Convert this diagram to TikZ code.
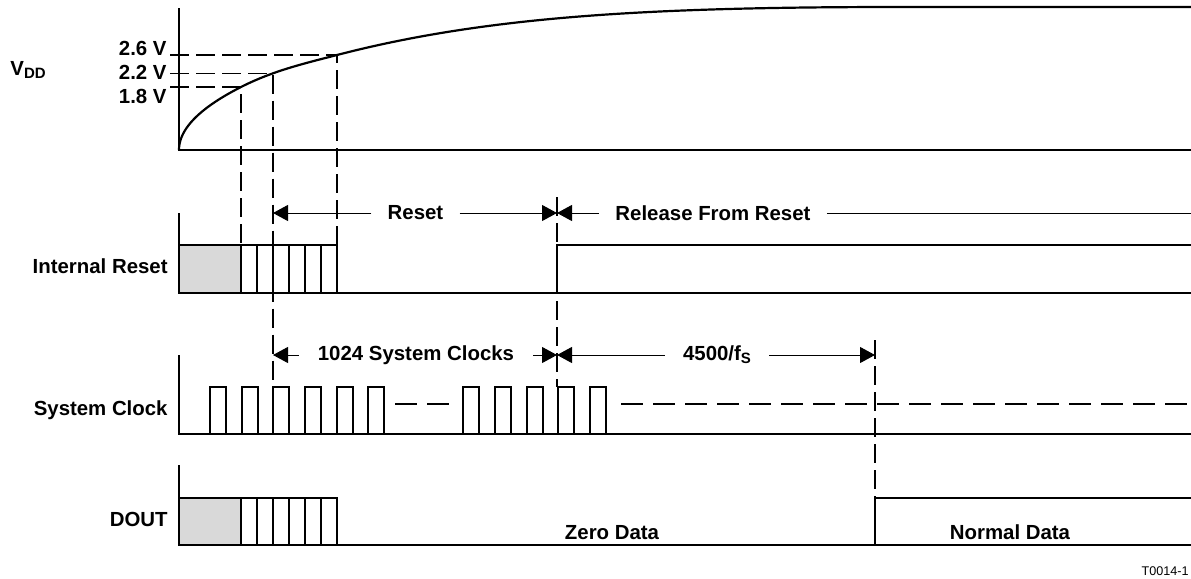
\documentclass[tikz,border=0pt]{standalone}
\usepackage{fontspec}
\setmainfont{Liberation Sans}
\usetikzlibrary{arrows.meta}
\begin{document}
\begin{tikzpicture}[x=0.5pt, y=-0.5pt,
    font=\fontsize{10.2}{12}\selectfont\bfseries,
    wave/.style={line width=1.1pt},
    guide/.style={line width=0.6pt, dash pattern=on 9.5pt off 3.5pt},
    dots/.style={line width=0.6pt, dash pattern=on 11pt off 5pt},
    dim/.style={line width=0.5pt, -{Triangle[length=7.5pt, width=8pt]}},
    gap/.style={inner sep=0pt, inner xsep=8pt},
    sig/.style={anchor=east, inner sep=0pt}]
    % Power-up timing diagram
    \useasboundingbox (0,0) rectangle (1191,579);

    \node[anchor=west, inner sep=0pt] (vdd) at (10,70) {V\raisebox{-1.4pt}{\fontsize{7.5}{8}\selectfont DD}};
    \node[sig] (lvl26) at (167,48) {2.6 V};
    \node[sig] (lvl22) at (167,72) {2.2 V};
    \node[sig] (lvl18) at (167,96) {1.8 V};

    \node[sig] (rstname) at (168,266) {Internal Reset};
    \node[sig] (clkname) at (168,410) {System Clock};
    \node[sig] (doutname) at (168,519) {DOUT};

    % supply ramp
    \draw[wave] (179,8) -- (179,150) -- (1191,150);
    \draw[wave] plot[domain=0:7.874, samples=40, variable=\t] ({179+\t*\t},{150-8*\t})
        .. controls (273,70.7) and (305,63.3) .. (337,55)
        .. controls (487,16) and (650,7) .. (900,7) -- (1191,7);

    \coordinate (p18) at (241,87);
    \coordinate (p22) at (273,73.5);
    \coordinate (p26) at (337,55);
    \coordinate (h18) at (170,87);
    \coordinate (h22) at (170,73.5);
    \coordinate (h26) at (170,55);

    % internal reset
    \draw[wave] (179,213) -- (179,293) -- (1191,293);
    \draw[wave] (557,293) -- (557,245) -- (1191,245);
    \draw[wave, fill=gray!30] (179,245) rectangle (241,293);
    \foreach \x in {241,257,...,321}
        \draw[wave] (\x,245) rectangle +(16,48);

    % system clock
    \draw[wave] (179,355) -- (179,434) -- (1191,434);
    \foreach \x in {210,242,273,305,337,368,463,495,527,558,590}
        \draw[wave] (\x,434) -- (\x,387) -- ++(16,0) -- ++(0,47);
    \coordinate (ck1) at (395,404);
    \coordinate (ck2) at (450,404);
    \coordinate (ck3) at (621,404);
    \coordinate (ck4) at (1191,404);
    \draw[dots] (ck1) -- (ck2);
    \draw[dots] (ck3) -- (ck4);

    % DOUT
    \draw[wave] (179,465) -- (179,545) -- (1191,545);
    \draw[wave] (875,545) -- (875,498) -- (1191,498);
    \draw[wave, fill=gray!30] (179,498) rectangle (241,545);
    \foreach \x in {241,257,...,321}
        \draw[wave] (\x,498) rectangle +(16,47);
    \node (zero) at (612,533) {Zero Data};
    \node (normal) at (1010,532) {Normal Data};

    % guide lines
    \coordinate (b18) at (241,245);
    \coordinate (b22) at (273,387);
    \coordinate (b26) at (337,245);
    \coordinate (t557) at (557,197);
    \coordinate (b557) at (557,387);
    \coordinate (t875) at (875,340);
    \coordinate (b875) at (875,498);
    \draw[guide] (h18) -- (p18) -- (b18);
    \draw[guide] (h22) -- (p22) -- (b22);
    \draw[guide] (h26) -- (p26) -- (b26);
    \draw[guide] (t557) -- (b557);
    \draw[guide] (t875) -- (b875);

    % intervals
    \coordinate (a273) at (273,213);
    \coordinate (a557) at (557,213);
    \coordinate (aend) at (1191,213);
    \node[gap] (reset) at (415.5,213) {Reset};
    \node[gap] (release) at (713,213) {Release From Reset};
    \draw[dim] (reset) -- (a273);
    \draw[dim] (reset) -- (a557);
    \draw[dim] (release) -- (a557);
    \draw[line width=0.5pt] (release) -- (aend);

    \coordinate (c273) at (273,355);
    \coordinate (c557) at (557,355);
    \coordinate (c875) at (875,355);
    \node[gap, inner xsep=9.5pt] (sysclk) at (416,355) {1024 System Clocks};
    \node[gap, inner xsep=9pt] (wait) at (717,355) {4500/f\raisebox{-1.6pt}{\fontsize{7.5}{8}\selectfont S}};
    \draw[dim] (sysclk) -- (c273);
    \draw[dim] (sysclk) -- (c557);
    \draw[dim] (wait) -- (c557);
    \draw[dim] (wait) -- (c875);

    \node[anchor=south east, inner sep=0pt, font=\fontsize{6.3}{7}\selectfont] (tag) at (1189,576) {T0014-1};
\end{tikzpicture}
\end{document}
